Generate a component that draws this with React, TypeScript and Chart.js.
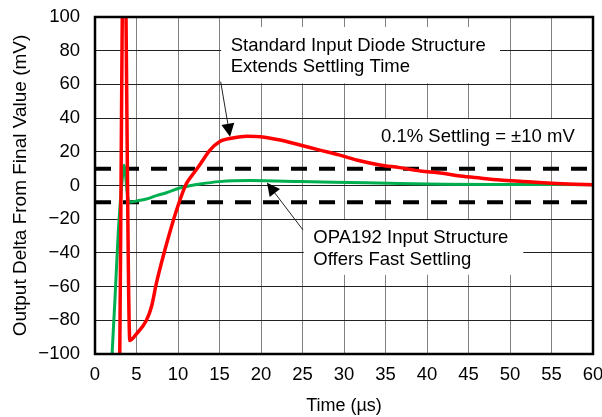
import React, { useEffect, useRef } from 'react';
import { Chart, registerables } from 'chart.js';

Chart.register(...registerables);

// ---- data (time in µs, delta in mV) ----
const redTime = [2.95, 3.5, 4.2, 5.0, 6.2, 6.8, 7.4, 8.0, 9.0, 10.0, 11.0, 12.0, 12.65, 13.85, 15.0, 16.6, 18.3, 19.9, 22.3, 24.7, 27.1, 29.5, 31.9, 34.3, 36.7, 39.2, 41.6, 44.0, 46.4, 48.8, 51.5, 54.0, 57.0, 60.0];
const redDelta = [-120, 170, -92, -88, -80, -72, -58, -46, -28, -12, 1, 8, 12.5, 21, 26, 28.2, 29.3, 29, 27, 24, 21, 18, 14.7, 12.2, 10.6, 8.6, 7.4, 5.6, 4.4, 3.3, 2.4, 1.6, 0.9, 0.5];

const greenTime = [1.95, 2.4, 2.8, 3.2, 3.5, 4.0, 4.3, 5.0, 6.2, 7.4, 8.6, 10.2, 11.4, 12.65, 15.0, 18.7, 24.7, 30.7, 36.7, 42.0, 48.8, 60.0];
const greenDelta = [-110, -68, -28, -1, 12, -8.5, -9.8, -9.2, -8, -6, -4.3, -1.5, -0.2, 0.9, 2.3, 2.9, 2.4, 1.8, 1.2, 0.8, 0.6, 0.5];

const settleTime = [0, 60];
const settleUpper = [10, 10];
const settleLower = [-10, -10];

const xMin = 0, xMax = 60, xStep = 5;
const yMin = -100, yMax = 100, yStep = 20;

const xTitle = 'Time (µs)';
const yTitle = 'Output Delta From Final Value (mV)';

// annotation texts
const noteDiode = ['Standard Input Diode Structure', 'Extends Settling Time'];
const noteSettle = ['0.1% Settling = ±10 mV'];
const noteOpa = ['OPA192 Input Structure', 'Offers Fast Settling'];

const FONT = '"Liberation Sans", Arial, sans-serif';

// plot frame (pixels)
const FRAME = { left: 95, right: 593, top: 17, bottom: 354, width: 602, height: 417 };

// annotation layout in data units
const boxes = [
  { x0: 15.2, x1: 48.8, y0: 94.1, y1: 60.6 },
  { x0: 33.9, x1: 60, y0: 39.4, y1: 20.6 },
  { x0: 25.15, x1: 51.6, y0: -20.6, y1: -53.0 },
];
const texts = [
  { x: 16.35, y: 79.7, dy: 21, lines: noteDiode },
  { x: 34.46, y: 26.0, dy: 21, lines: noteSettle },
  { x: 26.3, y: -34.3, dy: 21.7, lines: noteOpa },
];
const arrows = [
  { x0: 15.14, y0: 61.6, x1: 16.27, y1: 29.0 },
  { x0: 25.06, y0: -26.4, x1: 20.72, y1: 1.66 },
];

const toXY = (xs: number[], ys: number[]) => xs.map((x, i) => ({ x, y: ys[i] }));

const annotPlugin = {
  id: 'annot',
  afterLayout(chart: any) {
    const F = FRAME;
    const ca = chart.chartArea;
    ca.left = F.left; ca.right = F.right; ca.top = F.top; ca.bottom = F.bottom;
    ca.width = F.right - F.left; ca.height = F.bottom - F.top;
    const x = chart.scales.x;
    x.left = F.left; x.right = F.right; x.width = F.right - F.left;
    x.top = F.bottom; x.bottom = F.height; x.height = F.height - F.bottom;
    x.configure();
    const y = chart.scales.y;
    y.left = 0; y.right = F.left; y.width = F.left;
    y.top = F.top; y.bottom = F.bottom; y.height = F.bottom - F.top;
    y.configure();
  },
  beforeDatasetsDraw(chart: any) {
    const { ctx, scales } = chart;
    const x = scales.x, y = scales.y;
    ctx.save();
    ctx.fillStyle = '#ffffff';
    for (const b of boxes) {
      const px0 = x.getPixelForValue(b.x0);
      const px1 = x.getPixelForValue(b.x1);
      const py0 = y.getPixelForValue(b.y0);
      const py1 = y.getPixelForValue(b.y1);
      ctx.fillRect(px0, py0, px1 - px0, py1 - py0);
    }
    ctx.restore();
  },
  afterDatasetsDraw(chart: any) {
    const { ctx, scales } = chart;
    const x = scales.x, y = scales.y;
    ctx.save();
    ctx.fillStyle = '#000';
    ctx.font = `18.5px ${FONT}`;
    ctx.textBaseline = 'alphabetic';
    ctx.textAlign = 'left';
    for (const t of texts) {
      const px = x.getPixelForValue(t.x);
      const py = y.getPixelForValue(t.y);
      t.lines.forEach((line, i) => ctx.fillText(line, px, py + i * t.dy));
    }
    for (const a of arrows) {
      const sx = x.getPixelForValue(a.x0), sy = y.getPixelForValue(a.y0);
      const ex = x.getPixelForValue(a.x1), ey = y.getPixelForValue(a.y1);
      const ang = Math.atan2(ey - sy, ex - sx);
      const headLen = 13, headW = 6.5;
      const bx = ex - headLen * Math.cos(ang), by = ey - headLen * Math.sin(ang);
      ctx.strokeStyle = '#222';
      ctx.lineWidth = 1;
      ctx.beginPath();
      ctx.moveTo(sx, sy);
      ctx.lineTo(bx, by);
      ctx.stroke();
      ctx.fillStyle = '#000';
      ctx.beginPath();
      ctx.moveTo(ex, ey);
      ctx.lineTo(bx + headW * Math.sin(ang), by - headW * Math.cos(ang));
      ctx.lineTo(bx - headW * Math.sin(ang), by + headW * Math.cos(ang));
      ctx.closePath();
      ctx.fill();
    }
    ctx.restore();
  },
  afterDraw(chart: any) {
    const { ctx, chartArea } = chart;
    ctx.save();
    ctx.strokeStyle = '#000';
    ctx.lineWidth = 2.5;
    ctx.strokeRect(chartArea.left, chartArea.top, chartArea.right - chartArea.left, chartArea.bottom - chartArea.top);
    ctx.restore();
  },
};

export default function App() {
  const ref = useRef<HTMLCanvasElement | null>(null);

  useEffect(() => {
    if (!ref.current) return;
    const chart = new Chart(ref.current, {
      type: 'line',
      data: {
        datasets: [
          {
            label: 'Standard',
            data: toXY(redTime, redDelta),
            borderColor: '#ff0000',
            borderWidth: 3.5,
            pointRadius: 0,
            cubicInterpolationMode: 'monotone',
            clip: 0,
          },
          {
            label: 'OPA192',
            data: toXY(greenTime, greenDelta),
            borderColor: '#00b050',
            borderWidth: 3,
            pointRadius: 0,
            cubicInterpolationMode: 'monotone',
            clip: 0,
          },
          {
            label: '+10',
            data: toXY(settleTime, settleUpper),
            borderColor: '#000',
            borderWidth: 4,
            borderDash: [16, 12],
            pointRadius: 0,
            clip: 0,
          },
          {
            label: '-10',
            data: toXY(settleTime, settleLower),
            borderColor: '#000',
            borderWidth: 4,
            borderDash: [16, 12],
            pointRadius: 0,
            clip: 0,
          },
        ],
      } as any,
      options: {
        animation: false,
        responsive: false,
        devicePixelRatio: 1,
        parsing: false,
        normalized: true,
        events: [],
        layout: { autoPadding: false, padding: { top: 17, right: 9, left: 0, bottom: 0 } },
        plugins: { legend: { display: false }, tooltip: { enabled: false }, title: { display: false } },
        scales: {
          x: {
            type: 'linear',
            min: xMin,
            max: xMax,
            afterFit: (s: any) => { s.height = 63; },
            ticks: {
              stepSize: xStep,
              color: '#000',
              font: { family: FONT, size: 18.5 },
              padding: 10,
              maxRotation: 0,
              autoSkip: false,
            },
            grid: { color: '#808080', lineWidth: 1, drawTicks: false },
            border: { display: false },
            title: {
              display: true,
              text: xTitle,
              color: '#000',
              font: { family: FONT, size: 18 },
              padding: { top: 0, bottom: 0 },
            },
          },
          y: {
            type: 'linear',
            min: yMin,
            max: yMax,
            afterFit: (s: any) => { s.width = 95; },
            ticks: {
              stepSize: yStep,
              color: '#000',
              font: { family: FONT, size: 18.5 },
              padding: 15,
              autoSkip: false,
              callback: (v: any) => String(v).replace('-', '\u2212'),
            },
            grid: { color: '#222', lineWidth: 1, drawTicks: false },
            border: { display: false },
            title: {
              display: true,
              text: yTitle,
              color: '#000',
              font: { family: FONT, size: 19 },
              padding: { top: 9, bottom: 0 },
            },
          },
        },
      } as any,
      plugins: [annotPlugin],
    });
    return () => chart.destroy();
  }, []);

  return (
    <div style={{ position: 'fixed', left: 0, top: 0, width: 602, height: 417, background: '#fff' }}>
      <canvas ref={ref} width={602} height={417} style={{ width: 602, height: 417, display: 'block' }} />
    </div>
  );
}
